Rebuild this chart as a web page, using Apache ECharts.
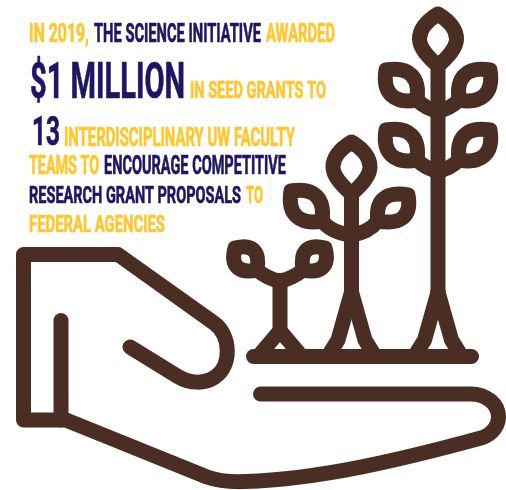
<!DOCTYPE html>
<html><head><meta charset="utf-8">
<style>html,body{margin:0;padding:0;background:#fff}#c{width:506px;height:490px}</style>
<script src="https://cdn.jsdelivr.net/npm/echarts@6/dist/echarts.min.js"></script>
</head><body><div id="c"></div>
<script>
const textRuns = ["IN 2019,","THE SCIENCE INITIATIVE","AWARDED","$1 MILLION","IN SEED GRANTS TO","13","INTERDISCIPLINARY UW FACULTY","TEAMS TO","ENCOURAGE COMPETITIVE","RESEARCH GRANT PROPOSALS","TO","FEDERAL AGENCIES"];
const runColours = ["y","n","y","n","y","n","y","y","n","n","y","y"];
const runLeft  = [29,94,266,30,190,32,64,29,104,29,246,29];
const runRight = [89,261,335,185,326,60,295,99,286,241,263,165];
const runTop   = [23.5,23.5,23.5,63,80,117,127.5,156,156,185,185,214];
const runBase  = [40.5,40.5,40.5,96.5,96.5,144,144.5,173,173,201.5,201.5,230.5];
const palette = {y:"#FFC62D", n:"#1E1565", b:"#4A2E23"};

const strokes = [
 // tall plant
 "M438,14C425,22 419.5,30 419.5,39C419.5,48 428,57 438,66C448,57 456.5,48 456.5,39C456.5,30 451,22 438,14ZM438,66L438,292",
 "M386,70C410,66 420,78 417,100C395,104 382,94 386,70Z",
 "M490,70C466,66 456,78 459,100C481,104 494,94 490,70Z",
 "M417,100Q426,109 438,111Q450,109 459,100",
 "M386,130C410,126 420,138 417,160C395,164 382,154 386,130Z",
 "M490,130C466,126 456,138 459,160C481,164 494,154 490,130Z",
 "M417,160Q426,169 438,171Q450,169 459,160",
 "M438,292L424.5,340L417,352","M438,292L451.5,340L459,352",
 // middle plant
 "M351.5,142C338.5,150 333,158 333,167C333,176 341.5,185 351.5,194C361.5,185 370,176 370,167C370,158 364.5,150 351.5,142ZM351.5,194L351.5,292",
 "M291,191C315,187 325,199 322,221C300,225 287,215 291,191Z",
 "M408,195C385,191 375,201 378,221C400,225 412,217 408,195Z",
 "M322,221Q332,233 351.5,235Q368,233 378,221",
 "M351.5,292L338,340L330.5,352","M351.5,292L365,340L372.5,352",
 // small plant
 "M235,248C254,243 260,253 257,270C239,274 230,266 235,248Z",
 "M325,248C306,243 300,253 303,270C321,274 330,266 325,248Z",
 "M257,270Q268,279 279.5,281Q292,279 303,270",
 "M280,281L280,330","M278,333L261,353","M282,333L299,353",
 // ground
 "M253.5,356.5L471.5,356.5",
 // hand
 "M130,347L177,376C190,384 205,384 215,377C232,366 231,335 214,323L118,254.5L23.5,254.5L23.5,420L66,420L207,477C218,481 232,482 245,481.5C320,479 400,460 481,438C494,434 498.5,424 498.5,417C498.5,405 488,394 470,394L260.5,394",
 "M61,320.5L61,420"
];

const measure = document.createElement("canvas").getContext("2d");
const FONT = "Roboto";
const elements = textRuns.map((t,i)=>{
  const capH = runBase[i]-runTop[i];
  const size = 1.06*capH/0.711;
  const font = `700 ${size}px ${FONT}`;
  measure.font = font;
  const w = measure.measureText(t).width;
  return {
    type:"text",
    x:runLeft[i], y:(runTop[i]+runBase[i])/2+1+0.14*capH, scaleX:(runRight[i]-runLeft[i])/w,
    style:{text:t, x:0, y:0, font, fill:palette[runColours[i]], align:"left", verticalAlign:"middle",
           stroke:palette[runColours[i]], lineWidth:0.7}
  };
});
const chart = echarts.init(document.getElementById("c"),null,{renderer:"canvas"});
chart.setOption({
  backgroundColor:"#fff",animation:false,
  graphic:{elements},
  series:[{type:"custom",coordinateSystem:"none",silent:true,data:strokes.map((d,i)=>i),
    renderItem:(p)=>({type:"path",shape:{pathData:strokes[p.dataIndex]},
      style:{fill:"none",stroke:palette.b,lineWidth:15,lineCap:"round",lineJoin:"round"}})
  }]
});
</script></body></html>
